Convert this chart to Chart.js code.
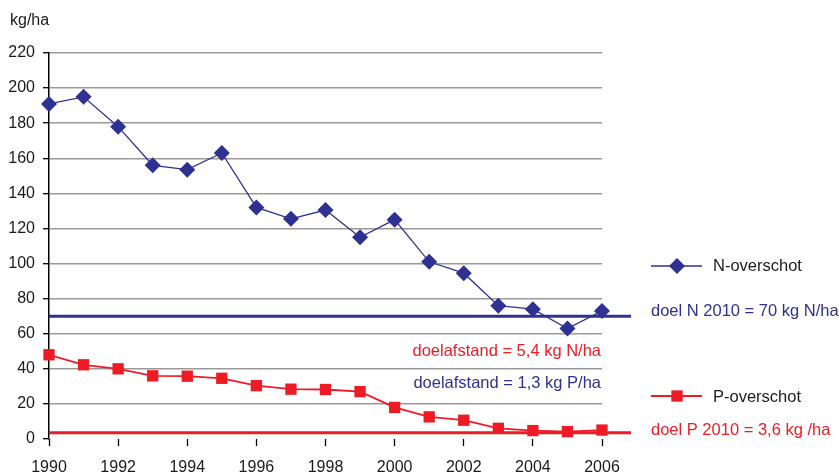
<!DOCTYPE html>
<html>
<head>
<meta charset="utf-8">
<script src="https://cdn.jsdelivr.net/npm/chart.js@4/dist/chart.umd.min.js"></script>
<style>
  html, body { margin: 0; padding: 0; background: #fff; }
  #wrap { width: 839px; height: 475px; position: relative; }
</style>
</head>
<body>
<div id="wrap"><canvas id="c"></canvas></div>
<script>
// Years on the horizontal axis
const years = [1990, 1991, 1992, 1993, 1994, 1995, 1996, 1997, 1998, 1999, 2000, 2001, 2002, 2003, 2004, 2005, 2006];
// Nitrogen surplus (kg/ha)
const nSurplus = [191, 195, 178, 156, 153.5, 163, 132, 125.5, 130.5, 115, 125, 101, 94.5, 76, 74, 63, 73];
// Phosphate surplus (kg/ha)
const pSurplus = [48, 42.3, 40, 36, 35.8, 34.6, 30.4, 28.4, 28.2, 27, 18, 12.6, 10.7, 6.1, 4.8, 4.2, 5.1];
// 2010 targets
const targetN = 70;
const targetP = 3.6;
// Axis ticks
const yTicks = [0, 20, 40, 60, 80, 100, 120, 140, 160, 180, 200, 220];
const xTickYears = [1990, 1992, 1994, 1996, 1998, 2000, 2002, 2004, 2006];

const BLUE = '#2e3192';
const RED = '#ed1c24';
const FONT = '"Liberation Sans", Arial, sans-serif';

const toPoints = (vals) => vals.map((v, i) => ({ x: years[i], y: v }));

function marker(ctx, style, x, y, r, color) {
  ctx.save();
  ctx.fillStyle = color;
  ctx.beginPath();
  if (style === 'rectRot') {
    ctx.moveTo(x, y - r); ctx.lineTo(x + r, y); ctx.lineTo(x, y + r); ctx.lineTo(x - r, y);
  } else {
    const h = r * Math.SQRT1_2;
    ctx.rect(x - h, y - h, 2 * h, 2 * h);
  }
  ctx.closePath();
  ctx.fill();
  ctx.restore();
}

// Target lines run a little past the plot area, under the series
const targetLines = {
  id: 'targetLines',
  beforeDatasetsDraw(chart) {
    const { ctx, chartArea, scales } = chart;
    const ext = chartArea.right + 29;
    [[targetN, BLUE], [targetP, RED]].forEach(([v, col]) => {
      const y = scales.y.getPixelForValue(v);
      ctx.save();
      ctx.strokeStyle = col;
      ctx.lineWidth = 3;
      ctx.beginPath();
      ctx.moveTo(chartArea.left, y);
      ctx.lineTo(ext, y);
      ctx.stroke();
      ctx.restore();
    });
  }
};

// Unit label, notes and the legend at the right
const annotations = {
  id: 'annotations',
  afterDraw(chart) {
    const { ctx, chartArea } = chart;
    const L = chartArea.left, R = chartArea.right, T = chartArea.top;
    ctx.save();
    ctx.font = '16px ' + FONT;
    ctx.textBaseline = 'alphabetic';

    ctx.fillStyle = '#1a1a1a';
    ctx.textAlign = 'left';
    ctx.fillText('kg/ha', L - 39, T - 28);

    ctx.font = '16.5px ' + FONT;
    ctx.textAlign = 'right';
    ctx.fillStyle = RED;
    ctx.fillText('doelafstand = 5,4 kg N/ha', R - 1, T + 303);
    ctx.fillStyle = BLUE;
    ctx.fillText('doelafstand = 1,3 kg P/ha', R - 1, T + 335);

    const lx0 = R + 49, lx1 = R + 100, mx = R + 75, tx = R + 111;
    // N-overschot
    let ly = T + 213;
    ctx.strokeStyle = BLUE; ctx.lineWidth = 1.3;
    ctx.beginPath(); ctx.moveTo(lx0, ly); ctx.lineTo(lx1, ly); ctx.stroke();
    marker(ctx, 'rectRot', mx, ly, 8, BLUE);
    ctx.textAlign = 'left';
    ctx.fillStyle = '#1a1a1a';
    ctx.fillText('N-overschot', tx, ly + 5);
    ctx.fillStyle = BLUE;
    ctx.fillText('doel N 2010 = 70 kg N/ha', R + 49, T + 263);

    // P-overschot
    ly = T + 343;
    ctx.strokeStyle = RED; ctx.lineWidth = 1.8;
    ctx.beginPath(); ctx.moveTo(lx0, ly); ctx.lineTo(lx1, ly); ctx.stroke();
    marker(ctx, 'rect', mx, ly, 8, RED);
    ctx.fillStyle = '#1a1a1a';
    ctx.fillText('P-overschot', tx, ly + 6);
    ctx.fillStyle = RED;
    ctx.fillText('doel P 2010 = 3,6 kg /ha', R + 49, T + 382);
    ctx.restore();
  }
};

new Chart(document.getElementById('c'), {
  type: 'line',
  data: {
    datasets: [
      {
        label: 'N-overschot',
        data: toPoints(nSurplus),
        borderColor: BLUE,
        backgroundColor: BLUE,
        borderWidth: 1.3,
        pointStyle: 'rectRot',
        pointRadius: 8,
        pointBorderWidth: 0,
        tension: 0,
        clip: false
      },
      {
        label: 'P-overschot',
        data: toPoints(pSurplus),
        borderColor: RED,
        backgroundColor: RED,
        borderWidth: 1.8,
        pointStyle: 'rect',
        pointRadius: 8,
        pointBorderWidth: 0,
        tension: 0,
        clip: false
      }
    ]
  },
  options: {
    responsive: true,
    maintainAspectRatio: false,
    animation: false,
    layout: { padding: { top: 53, right: 237, bottom: 0, left: 0 } },
    plugins: { legend: { display: false }, tooltip: { enabled: false } },
    scales: {
      x: {
        type: 'linear',
        min: years[0],
        max: years[years.length - 1],
        afterBuildTicks: (scale) => { scale.ticks = xTickYears.map(v => ({ value: v })); },
        afterFit: (scale) => { scale.height = 36; },
        border: { display: false },
        grid: { drawOnChartArea: false, drawTicks: true, tickLength: 7, tickColor: '#000', tickWidth: 1.3 },
        ticks: {
          padding: 12,
          maxRotation: 0,
          color: '#1a1a1a',
          font: { family: FONT, size: 16 },
          callback: (v) => String(v)
        }
      },
      y: {
        min: 0,
        max: 220,
        afterBuildTicks: (scale) => { scale.ticks = yTicks.map(v => ({ value: v })); },
        afterFit: (scale) => { scale.width = 49; },
        border: { display: true, color: '#000', width: 1.5 },
        grid: {
          color: (c) => (c.tick && c.tick.value === 0 ? 'rgba(0,0,0,0)' : '#999999'),
          lineWidth: 1.4,
          tickLength: 6,
          tickColor: '#000',
          tickWidth: 1.3
        },
        ticks: {
          padding: 8,
          color: '#1a1a1a',
          font: { family: FONT, size: 16 },
          callback: (v) => String(v)
        }
      }
    }
  },
  plugins: [targetLines, annotations]
});
</script>
</body>
</html>
